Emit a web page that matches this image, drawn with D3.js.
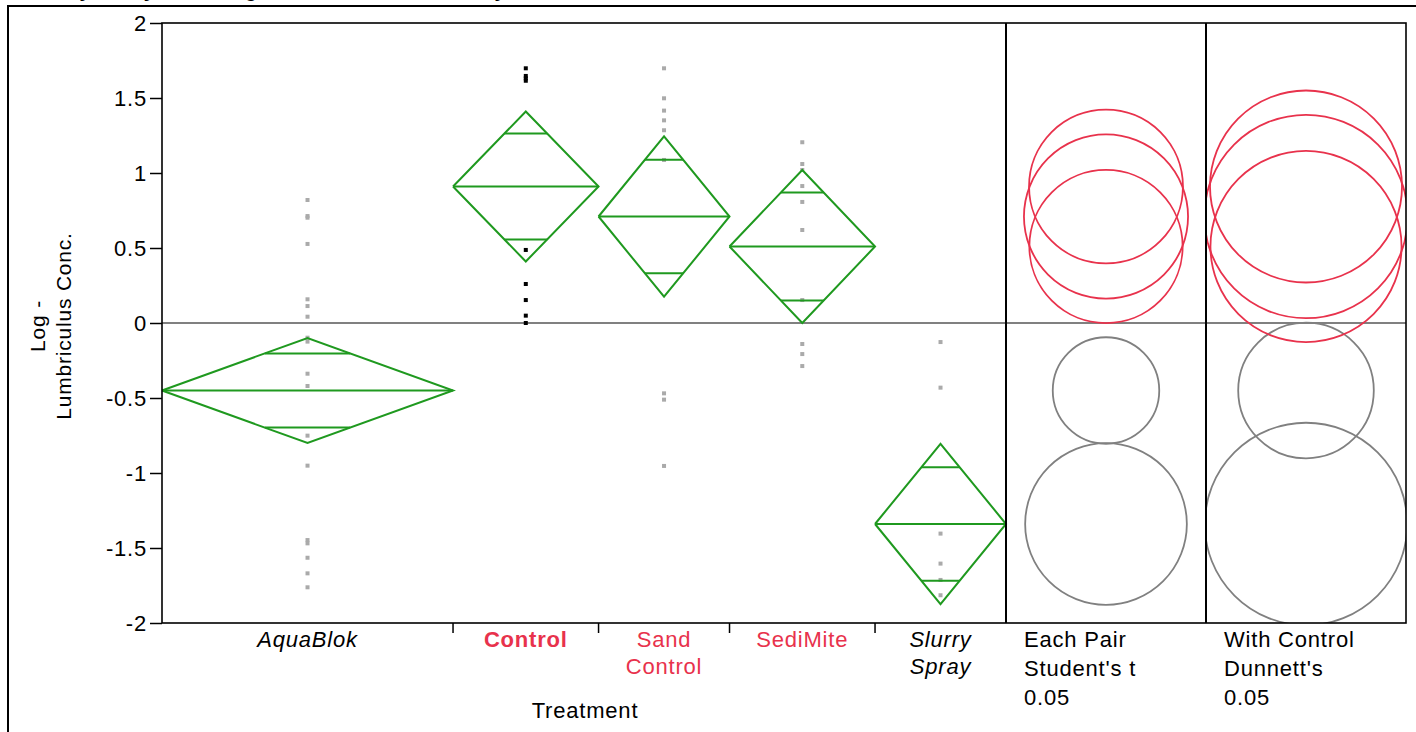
<!DOCTYPE html>
<html>
<head>
<meta charset="utf-8">
<script src="https://cdn.jsdelivr.net/npm/d3@7"></script>
<style>
  body { margin: 0; background: #fff; }
  svg text { font-family: "Liberation Sans", Arial, sans-serif; letter-spacing: 0.8px; }
</style>
</head>
<body>
<div class="chart"></div>
<script>
const width = 1416;
const height = 732;

// groups and their sample sizes (diamond widths)
const groups = ["AquaBlok", "Control", "Sand Control", "SediMite", "Slurry Spray"];
const groupN = [20, 10, 9, 10, 9];
// group means and 95% CI half-widths read from the diamonds
const groupMean = [-0.45, 0.91, 0.71, 0.51, -1.34];
const groupCI = [0.35, 0.50, 0.535, 0.51, 0.535];
// comparison circle radii
const studentR = [0.355, 0.513, 0.547, 0.511, 0.539];
const dunnettR = [0.452, 0.64, 0.678, 0.637, 0.675];
const circleRed = [false, true, true, true, false];

// raw points per group
const pointsAquaBlok = [0.82, 0.713, 0.702, 0.527, 0.158, 0.113, 0.042, -0.098, -0.124, -0.338, -0.42, -0.751, -0.951, -1.447, -1.469, -1.565, -1.669, -1.762];
const pointsControl = [1.698, 1.647, 1.631, 1.615, 0.487, 0.26, 0.153, 0.049, 0.0];
const pointsSand = [1.698, 1.498, 1.416, 1.351, 1.285, 1.087, -0.469, -0.511, -0.953];
const pointsSediMite = [1.205, 1.06, 1.02, 0.913, 0.807, 0.62, 0.153, -0.14, -0.207, -0.287];
const pointsSlurry = [-0.127, -0.431, -1.404, -1.604, -1.713, -1.815];
const groupPoints = [pointsAquaBlok, pointsControl, pointsSand, pointsSediMite, pointsSlurry];

const yTicks = [-2, -1.5, -1, -0.5, 0, 0.5, 1, 1.5, 2];

const red = "#e8324c";
const green = "#1f991f";
const grey = "#808080";

const svg = d3.select(".chart")
    .append("svg")
    .attr("width", width)
    .attr("height", height)
    .attr("viewBox", [0, 0, width, height]);

const plotL = 162, plotR = 1006, plotT = 23, plotB = 623;
const panels = [[1006, 1206], [1206, 1406]];

let total = d3.sum(groupN);
let x = d3.scaleLinear().domain([0, total]).range([plotL, plotR]);
let y = d3.scaleLinear().domain([-2, 2]).range([plotB, plotT]);

let cum = d3.cumsum(groupN);
let bounds = groupN.map((n, i) => [cum[i] - n, cum[i]]);

// outer frame + title (cut off at the top like the original)
svg.append("rect")
    .attr("x", 8).attr("y", 6)
    .attr("width", width).attr("height", height)
    .attr("fill", "none").attr("stroke", "#000").attr("stroke-width", 2);

svg.append("text")
    .attr("x", 10).attr("y", -3)
    .attr("font-size", 20).attr("font-weight", "bold")
    .text("Oneway Analysis of Log - Lumbriculus Conc. By Treatment");

// zero reference line
svg.append("line")
    .attr("x1", plotL).attr("x2", panels[1][1])
    .attr("y1", y(0)).attr("y2", y(0))
    .attr("stroke", grey).attr("stroke-width", 2);

// data points
let pts = [];
groupPoints.forEach((arr, i) => arr.forEach(v => pts.push({g: i, v: v})));
svg.append("g")
    .selectAll("rect")
    .data(pts)
    .join("rect")
    .attr("x", d => x((bounds[d.g][0] + bounds[d.g][1]) / 2) - 2)
    .attr("y", d => y(d.v) - 2)
    .attr("width", 4).attr("height", 4)
    .attr("fill", d => d.g === 1 ? "#000" : "#aaa");

// means diamonds
let dg = svg.append("g")
    .attr("fill", "none")
    .attr("stroke", green)
    .attr("stroke-width", 2);

groups.forEach((g, i) => {
    let x0 = x(bounds[i][0]), x1 = x(bounds[i][1]), xc = (x0 + x1) / 2;
    let m = groupMean[i], c = groupCI[i];
    dg.append("path")
        .attr("d", d3.line()([[x0, y(m)], [xc, y(m + c)], [x1, y(m)], [xc, y(m - c)], [x0, y(m)]]));
    dg.append("line")
        .attr("x1", x0).attr("x2", x1)
        .attr("y1", y(m)).attr("y2", y(m));
    // overlap marks
    let half = (x1 - x0) / 2 * (1 - 1 / Math.SQRT2);
    [m + c / Math.SQRT2, m - c / Math.SQRT2].forEach(v => {
        dg.append("line")
            .attr("x1", xc - half).attr("x2", xc + half)
            .attr("y1", y(v)).attr("y2", y(v));
    });
});

// comparison circles
let pxPerUnit = y(0) - y(1);
[studentR, dunnettR].forEach((radii, p) => {
    let id = "clip" + p;
    svg.append("clipPath").attr("id", id)
        .append("rect")
        .attr("x", panels[p][0]).attr("y", plotT)
        .attr("width", panels[p][1] - panels[p][0]).attr("height", plotB - plotT);
    let cx = (panels[p][0] + panels[p][1]) / 2;
    svg.append("g")
        .attr("clip-path", `url(#${id})`)
        .selectAll("circle")
        .data(radii)
        .join("circle")
        .attr("cx", cx)
        .attr("cy", (d, i) => y(groupMean[i]))
        .attr("r", d => d * pxPerUnit)
        .attr("fill", "none")
        .attr("stroke", (d, i) => circleRed[i] ? red : grey)
        .attr("stroke-width", 1.8);
});

// frames
svg.append("rect")
    .attr("x", plotL).attr("y", plotT)
    .attr("width", panels[1][1] - plotL).attr("height", plotB - plotT)
    .attr("fill", "none").attr("stroke", "#000").attr("stroke-width", 1.6);
panels.forEach(p => {
    svg.append("line")
        .attr("x1", p[0]).attr("x2", p[0])
        .attr("y1", plotT).attr("y2", plotB)
        .attr("stroke", "#000").attr("stroke-width", 2);
});

// y axis
let yAxis = svg.append("g")
    .attr("transform", `translate(${plotL},0)`)
    .call(d3.axisLeft(y).tickValues(yTicks).tickSize(12).tickPadding(3)
        .tickFormat(d => String(d)));
yAxis.select(".domain").remove();
yAxis.selectAll("line").attr("stroke", "#000").attr("stroke-width", 1.5);
yAxis.selectAll("text")
    .attr("font-size", 22)
    .attr("fill", "#000")
    .attr("font-family", "Liberation Sans, Arial, sans-serif");

// y title
let yt = svg.append("text")
    .attr("transform", "translate(45,326) rotate(-90)")
    .attr("text-anchor", "middle")
    .attr("font-size", 21);
yt.append("tspan").attr("x", 0).attr("dy", 0).text("Log -");
yt.append("tspan").attr("x", 0).attr("dy", 26).text("Lumbriculus Conc.");

// x axis ticks between groups
svg.append("g")
    .selectAll("line")
    .data(cum.slice(0, -1))
    .join("line")
    .attr("x1", d => x(d)).attr("x2", d => x(d))
    .attr("y1", plotB).attr("y2", plotB + 10)
    .attr("stroke", "#000").attr("stroke-width", 1.5);

// x labels
const labelLines = [["AquaBlok"], ["Control"], ["Sand", "Control"], ["SediMite"], ["Slurry", "Spray"]];
const labelStyle = [
    {fill: "#000", italic: true, bold: false},
    {fill: red, italic: false, bold: true},
    {fill: red, italic: false, bold: false},
    {fill: red, italic: false, bold: false},
    {fill: "#000", italic: true, bold: false}
];
labelLines.forEach((lines, i) => {
    let t = svg.append("text")
        .attr("text-anchor", "middle")
        .attr("font-size", 22)
        .attr("fill", labelStyle[i].fill)
        .attr("font-style", labelStyle[i].italic ? "italic" : "normal")
        .attr("font-weight", labelStyle[i].bold ? "bold" : "normal");
    let xc = x((bounds[i][0] + bounds[i][1]) / 2);
    lines.forEach((l, k) => {
        t.append("tspan").attr("x", xc).attr("y", 647 + k * 27).text(l);
    });
});

const panelLabels = [["Each Pair", "Student's t", "0.05"], ["With Control", "Dunnett's", "0.05"]];
panelLabels.forEach((lines, p) => {
    let t = svg.append("text").attr("font-size", 22);
    lines.forEach((l, k) => {
        t.append("tspan").attr("x", panels[p][0] + 18).attr("y", 647 + k * 29).text(l);
    });
});

svg.append("text")
    .attr("x", 585).attr("y", 718)
    .attr("text-anchor", "middle")
    .attr("font-size", 22)
    .text("Treatment");
</script>
</body>
</html>
